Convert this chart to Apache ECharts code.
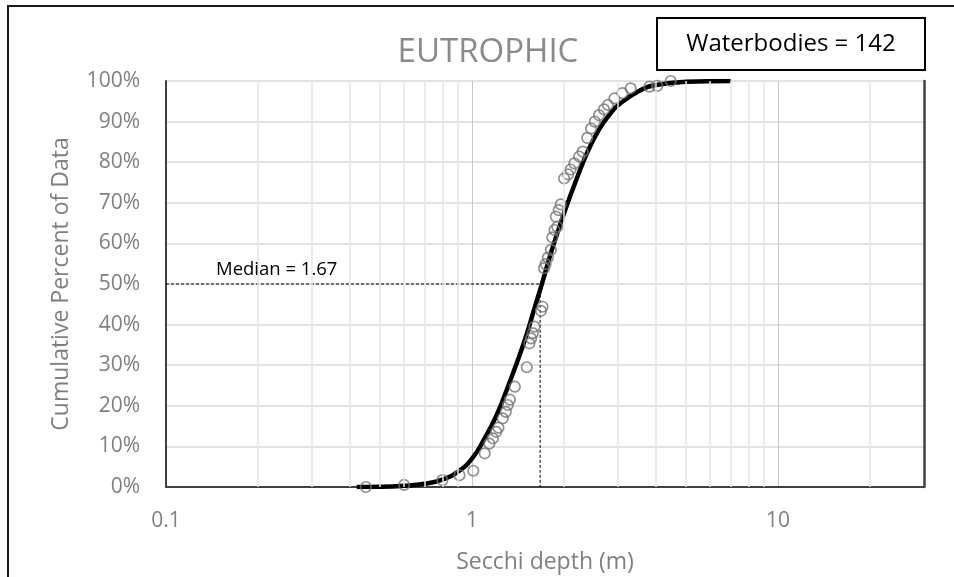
<!DOCTYPE html>
<html>
<head>
<meta charset="utf-8">
<script src="https://cdn.jsdelivr.net/npm/echarts@6/dist/echarts.min.js"></script>
<style>
  html, body { margin: 0; padding: 0; background: #fff; }
  #chartDom { width: 954px; height: 577px; }
</style>
</head>
<body>
<div id="chartDom"></div>
<script>
// observed Secchi depths (m) and their cumulative percent
var obsDepth = [0.45, 0.60, 0.80, 0.91, 1.01, 1.10, 1.14, 1.17, 1.20, 1.22, 1.26, 1.29, 1.31, 1.33, 1.38,
	1.51, 1.54, 1.56, 1.58, 1.60, 1.68, 1.70, 1.72, 1.74, 1.77, 1.81, 1.83, 1.86, 1.90, 1.88, 1.92, 1.95,
	2.00, 2.06, 2.10, 2.16, 2.24, 2.30, 2.38, 2.45, 2.52, 2.60, 2.70, 2.78, 2.92, 3.10, 3.30, 3.80, 4.03, 4.46];
var obsPct = [0, 0.5, 1.7, 2.9, 4.0, 8.3, 10.7, 12.0, 13.6, 14.6, 16.9, 18.5, 20.2, 21.5, 24.7,
	29.5, 35.4, 36.6, 37.9, 39.5, 43.4, 44.4, 53.9, 54.9, 56.5, 58.4, 61.5, 63.3, 64.1, 66.6, 68.2, 69.6,
	76.0, 77.0, 78.2, 79.7, 81.4, 82.6, 86.0, 88.3, 90.0, 91.6, 93.0, 94.1, 95.7, 97.0, 98.2, 98.6, 98.8, 100];

// fitted curve
var fitDepth = [0.42, 0.5, 0.6, 0.7, 0.8, 0.9, 1.0, 1.1, 1.2, 1.3, 1.4, 1.5, 1.6, 1.7, 1.8, 1.9, 2.0,
	2.2, 2.4, 2.6, 2.8, 3.0, 3.5, 4.0, 5.0, 7.0];
var fitPct = [0, 0.05, 0.3, 0.8, 1.8, 3.8, 7, 12, 17.5, 24, 30.5, 37, 44, 50.5, 57, 62.5, 67.5,
	76, 83, 88, 91.5, 94, 97.5, 99, 99.8, 100];

var median = 1.67;
var medianPct = 50;
var waterbodies = 142;

var xTickLabels = [0.1, 1, 10];
var xMinorGrid = [0.2, 0.3, 0.4, 0.5, 0.6, 0.7, 0.8, 0.9, 2, 3, 4, 5, 6, 7, 8, 9, 20];

var dom = document.getElementById("chartDom");
var myChart = echarts.init(dom);

var grey = '#7f7f7f';
var font = 'Open Sans';

var option = {
	animation: false,
	textStyle: { fontFamily: font },
	title: {
		text: 'EUTROPHIC',
		left: 483,
		top: 31,
		textAlign: 'center',
		textStyle: { color: '#8a8a8a', fontSize: 33, fontWeight: 'normal', fontFamily: font }
	},
	grid: { left: 166, top: 81, right: 30, bottom: 90, outerBoundsMode: 'none', containLabel: false },
	xAxis: [{
		type: 'log',
		logBase: 10,
		min: 0.1,
		max: 30,
		name: 'Secchi depth (m)',
		nameLocation: 'middle',
		nameGap: 64,
		nameTextStyle: { color: grey, fontSize: 23, fontFamily: font },
		axisLine: { lineStyle: { color: '#c4c4c4', width: 1.5 } },
		axisTick: { show: false },
		axisLabel: {
			color: grey,
			fontSize: 21,
			margin: 24,
			formatter: function(v) {
				var hit = xTickLabels.some(function(t) { return Math.abs(t - v) < 1e-9; });
				return hit ? String(v) : '';
			}
		},
		splitLine: { show: true, lineStyle: { color: '#c6c6c6', width: 1 } }
	}, {
		type: 'log',
		logBase: 10,
		min: 0.1,
		max: 30,
		position: 'top',
		axisLine: { lineStyle: { color: '#404040', width: 2 } },
		axisTick: { show: false },
		axisLabel: { show: false },
		splitLine: { show: false }
	}],
	yAxis: [{
		type: 'value',
		min: 0,
		max: 100,
		interval: 10,
		name: 'Cumulative Percent of Data',
		nameLocation: 'middle',
		nameGap: 93,
		nameTextStyle: { color: grey, fontSize: 23, fontFamily: font },
		axisLine: { show: true, lineStyle: { color: '#404040', width: 2 } },
		axisTick: { show: false },
		axisLabel: { color: grey, fontSize: 21, margin: 26, formatter: '{value}%' },
		splitLine: { show: true, lineStyle: { color: '#d9d9d9', width: 1.5 } }
	}, {
		type: 'value',
		min: 0,
		max: 100,
		position: 'right',
		axisLine: { show: true, lineStyle: { color: '#404040', width: 2.5 } },
		axisTick: { show: false },
		axisLabel: { show: false },
		splitLine: { show: false }
	}],
	series: [{
		// minor log grid lines
		type: 'line',
		data: [],
		silent: true,
		z: 1,
		markLine: {
			silent: true,
			symbol: 'none',
			label: { show: false },
			animation: false,
			lineStyle: { color: '#e6e6e6', type: 'solid', width: 1.5 },
			data: xMinorGrid.map(function(v) { return { xAxis: v }; })
		}
	}, {
		name: 'median',
		type: 'line',
		showSymbol: false,
		silent: true,
		z: 2,
		lineStyle: { color: '#000', width: 1, type: [3, 2] },
		data: [[0.1, medianPct], [median, medianPct], [median, 0]]
	}, {
		name: 'fit',
		type: 'line',
		smooth: true,
		showSymbol: false,
		z: 3,
		lineStyle: { color: '#000', width: 4.5 },
		data: fitDepth.map(function(d, i) { return [d, fitPct[i]]; })
	}, {
		name: 'observed',
		type: 'scatter',
		symbol: 'circle',
		symbolSize: 10.5,
		z: 4,
		itemStyle: { color: 'rgba(0,0,0,0)', borderColor: '#747474', borderWidth: 1.7 },
		data: obsDepth.map(function(d, i) { return [d, obsPct[i]]; })
	}],
	graphic: [{
		type: 'rect',
		shape: { x: 8, y: 6, width: 1000, height: 700 },
		style: { fill: 'none', stroke: '#1a1a1a', lineWidth: 2 },
		silent: true
	}, {
		type: 'rect',
		shape: { x: 657, y: 18, width: 268, height: 52 },
		style: { fill: '#fff', stroke: '#000', lineWidth: 2 },
		z: 10
	}, {
		type: 'text',
		x: 791,
		y: 44,
		z: 11,
		style: {
			text: 'Waterbodies = ' + waterbodies,
			fill: '#000',
			font: '24px "Open Sans"',
			textAlign: 'center',
			textVerticalAlign: 'middle'
		}
	}, {
		type: 'text',
		x: 216,
		y: 270,
		z: 11,
		style: {
			text: 'Median = ' + median,
			fill: '#000',
			font: '18.5px "Open Sans"',
			textAlign: 'left',
			textVerticalAlign: 'middle'
		}
	}]
};

myChart.setOption(option, true);
</script>
</body>
</html>
